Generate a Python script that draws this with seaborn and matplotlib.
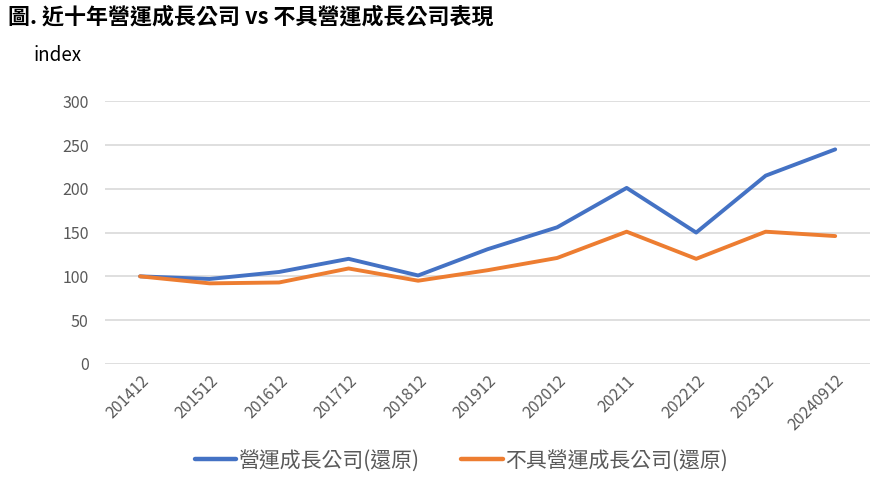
import pandas as pd
import numpy as np
import seaborn as sns
import matplotlib.pyplot as plt

periods = ['201412', '201512', '201612', '201712', '201812', '201912',
           '202012', '20211', '202212', '202312', '20240912']
growth = [100, 97, 105, 120, 101, 131, 156, 201, 150, 215, 245]
non_growth = [100, 92, 93, 109, 95, 107, 121, 151, 120, 151, 146]
name_growth = '營運成長公司(還原)'
name_non = '不具營運成長公司(還原)'

df = pd.DataFrame({'period': periods * 2,
                   'value': growth + non_growth,
                   'series': [name_growth] * len(periods) + [name_non] * len(periods)})

sns.set_theme(style='white')
plt.rcParams['font.family'] = ['Noto Sans CJK TC', 'DejaVu Sans']

fig = plt.figure(figsize=(8.85, 4.82), dpi=100)
ax = fig.add_axes([0.119, 0.245, 0.864, 0.545])

sns.lineplot(data=df, x='period', y='value', hue='series', sort=False,
             palette={name_growth: '#4472C4', name_non: '#ED7D31'},
             linewidth=2.8, ax=ax, legend=False)

ax.set_xlim(-0.5, len(periods) - 0.5)
ax.set_ylim(0, 300)
ax.set_yticks(range(0, 301, 50))
ax.grid(axis='y', color='#d9d9d9', linewidth=1.2)
ax.set_axisbelow(True)
for s in ax.spines.values():
    s.set_visible(False)
ax.set_xlabel('')
ax.set_ylabel('')
ax.tick_params(axis='both', length=0, labelsize=11.5, labelcolor='#595959')
ax.tick_params(axis='y', pad=12)
ax.tick_params(axis='x', pad=6)
ax.set_xticks(range(len(periods)))
ax.set_xticklabels(periods, rotation=45, ha='right', rotation_mode='anchor')

fig.text(0.009, 0.965, '圖. 近十年營運成長公司 vs 不具營運成長公司表現',
         fontsize=15.8, fontweight='bold', va='center', ha='left', color='black')
fig.text(0.038, 0.885, 'index', fontsize=13.5, va='center', ha='left', color='black')

handles = [plt.Line2D([], [], color='#4472C4', linewidth=3.2),
           plt.Line2D([], [], color='#ED7D31', linewidth=3.2)]
leg = fig.legend(handles, [name_growth, name_non], loc='center', ncol=2,
                 bbox_to_anchor=(0.521, 0.045), frameon=False, fontsize=15,
                 handlelength=2.0, handletextpad=0.1, columnspacing=2.0)
for t in leg.get_texts():
    t.set_color('#595959')

fig.savefig('out.png', dpi=100)
